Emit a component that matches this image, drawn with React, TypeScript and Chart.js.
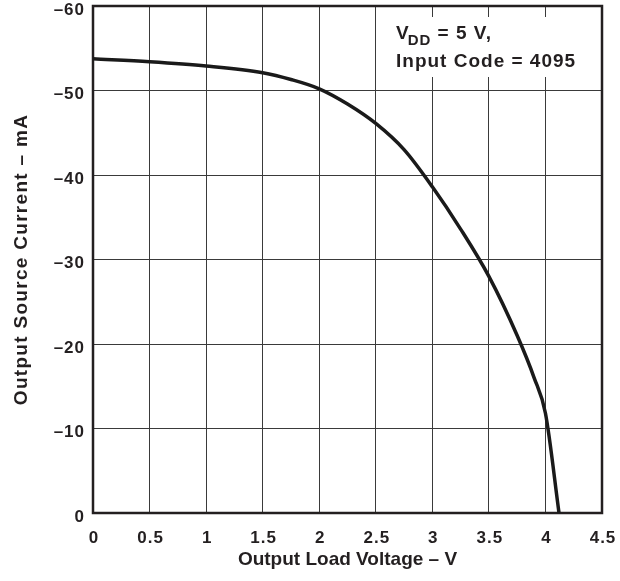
import React, { useEffect, useRef } from "react";
import { Chart, registerables } from "chart.js";

Chart.register(...registerables);

const voltage = [0, 0.5, 1, 1.5, 1.75, 2, 2.25, 2.5, 2.75, 3, 3.25, 3.5, 3.75, 3.9, 4.0, 4.12];
const current = [-53.75, -53.4, -52.9, -52.1, -51.3, -50.2, -48.4, -46.1, -43.0, -38.6, -33.6, -28.0, -21.0, -16.0, -11.8, 0];

const xTitle = "Output Load Voltage – V";
const yTitle = "Output Source Current – mA";
const noteLine1Main = "V";
const noteLine1Sub = "DD";
const noteLine1Rest = " = 5 V,";
const noteLine2 = "Input Code = 4095";

const FONT = "'Liberation Sans', Arial, Helvetica, sans-serif";
const INK = "#231f20";

const spacingPlugin = {
  id: "spacing",
  beforeDraw(chart: any) {
    chart.ctx.letterSpacing = "1px";
  },
};

function patchTitle(s: any, spacing: string) {
  if (s._titlePatched) return;
  const orig = s.drawTitle;
  s.drawTitle = function (...args: any[]) {
    const c = this.ctx;
    const prev = c.letterSpacing;
    c.letterSpacing = spacing;
    orig.apply(this, args);
    c.letterSpacing = prev;
  };
  s._titlePatched = true;
}

const framePlugin = {
  id: "frame",
  beforeDatasetsDraw(chart: any) {
    const { ctx, chartArea } = chart;
    ctx.save();
    ctx.strokeStyle = INK;
    ctx.lineWidth = 2.5;
    ctx.strokeRect(chartArea.left, chartArea.top, chartArea.right - chartArea.left, chartArea.bottom - chartArea.top);
    ctx.fillStyle = "#ffffff";
    ctx.fillRect(386, 17, 206, 60);
    ctx.restore();
  },
  afterDatasetsDraw(chart: any) {
    const { ctx } = chart;
    ctx.save();
    ctx.letterSpacing = "1px";
    ctx.fillStyle = INK;
    ctx.textBaseline = "alphabetic";
    ctx.textAlign = "left";
    let x = 396;
    ctx.font = `bold 19px ${FONT}`;
    ctx.fillText(noteLine1Main, x, 39);
    x += ctx.measureText(noteLine1Main).width - 2;
    ctx.font = `bold 15px ${FONT}`;
    ctx.fillText(noteLine1Sub, x, 45);
    x += ctx.measureText(noteLine1Sub).width;
    ctx.font = `bold 19px ${FONT}`;
    ctx.fillText(noteLine1Rest, x, 39);
    ctx.fillText(noteLine2, 396, 67);
    ctx.restore();
  },
};

export default function App() {
  const ref = useRef<HTMLCanvasElement>(null);
  useEffect(() => {
    if (!ref.current) return;
    const chart = new Chart(ref.current, {
      type: "line",
      data: {
        datasets: [
          {
            data: voltage.map((v, i) => ({ x: v, y: current[i] })),
            borderColor: "#1a1a1a",
            borderWidth: 3.5,
            pointRadius: 0,
            fill: false,
            cubicInterpolationMode: "monotone",
          },
        ],
      },
      options: {
        responsive: false,
        animation: false,
        devicePixelRatio: 1,
        layout: { padding: { top: 6, right: 18, left: 0, bottom: 0 } },
        plugins: { legend: { display: false }, tooltip: { enabled: false } },
        scales: {
          x: {
            type: "linear",
            min: 0,
            max: 4.5,
            ticks: {
              stepSize: 0.5,
              color: INK,
              padding: 15,
              maxRotation: 0,
              autoSkip: false,
              labelOffset: 1,
              font: { family: FONT, size: 17, weight: "bold" },
              callback: (v: any) => String(Math.round(Number(v) * 10) / 10),
            },
            grid: { color: "#3a3a3a", lineWidth: 1, drawTicks: false },
            border: { display: false },
            title: {
              display: true,
              text: xTitle,
              color: INK,
              font: { family: FONT, size: 19, weight: "bold" },
              padding: { top: 0, bottom: 10 },
            },
            afterFit: (s: any) => {
              s.height = 68;
              s.paddingLeft = 0;
              s.paddingRight = 0;
              patchTitle(s, "0px");
            },
          },
          y: {
            type: "linear",
            min: -60,
            max: 0,
            reverse: true,
            ticks: {
              stepSize: 10,
              color: INK,
              padding: 8,
              autoSkip: false,
              labelOffset: 4,
              font: { family: FONT, size: 17, weight: "bold" },
              callback: (v: any) => (Number(v) < 0 ? "–" + Math.abs(Number(v)) : "0"),
            },
            grid: { color: "#3a3a3a", lineWidth: 1, drawTicks: false },
            border: { display: false },
            title: {
              display: true,
              text: yTitle,
              color: INK,
              font: { family: FONT, size: 19, weight: "bold" },
              padding: { top: 10, bottom: 0 },
            },
            afterFit: (s: any) => {
              s.width = 93;
              s.paddingTop = 0;
              s.paddingBottom = 0;
              patchTitle(s, "1.3px");
            },
          },
        },
      },
      plugins: [spacingPlugin, framePlugin],
    } as any);
    return () => chart.destroy();
  }, []);
  return (
    <div style={{ position: "fixed", left: 0, top: 0, width: 620, height: 581, background: "#fff" }}>
      <canvas ref={ref} width={620} height={581} style={{ display: "block" }} />
    </div>
  );
}
